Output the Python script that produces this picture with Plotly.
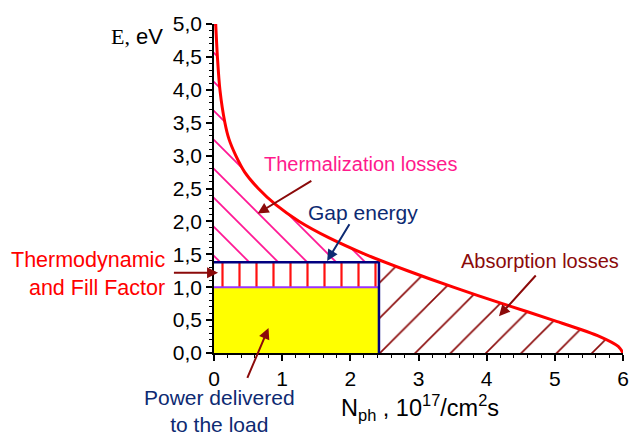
import numpy as np
import plotly.graph_objects as go

# Photon flux curve: N_ph (10^17 /cm^2 s) of photons with energy above E (eV)
curve_E = [5.0, 4.5, 4.0, 3.5, 3.25, 3.0, 2.75, 2.5, 2.25, 2.0, 1.75, 1.5,
           1.25, 1.0, 0.75, 0.5, 0.25, 0.1, 0.0]
curve_N = [0.025, 0.05, 0.087, 0.16, 0.22, 0.32, 0.45, 0.65, 0.91, 1.25, 1.69, 2.22,
           2.84, 3.51, 4.23, 4.97, 5.66, 5.93, 6.0]

E_gap = 1.38        # gap energy, eV
E_load = 1.0        # energy delivered to the load, eV
N_gap = 2.42        # photon flux absorbed above the gap

x_ticks = [0, 1, 2, 3, 4, 5, 6]
y_ticks = [0.0, 0.5, 1.0, 1.5, 2.0, 2.5, 3.0, 3.5, 4.0, 4.5, 5.0]

FONT = "Arial, Liberation Sans, sans-serif"
RED = "#ff0000"
MAGENTA = "#ff1a8c"
MAROON = "#8b0a0a"
NAVY = "#000080"
TXT_NAVY = "#0d2a72"

# curve height where the gap rectangle's right edge meets it
E_cut = float(np.interp(N_gap, curve_N, curve_E))

fig = go.Figure()

# Power delivered to the load (yellow)
fig.add_trace(go.Scatter(
    x=[0, N_gap, N_gap, 0, 0], y=[0, 0, E_load, E_load, 0],
    mode="lines", line=dict(width=0), fill="toself", fillcolor="#ffff00",
    hoverinfo="skip", showlegend=False))

# Thermodynamic and fill factor losses (vertical hatch)
fig.add_trace(go.Scatter(
    x=[0, N_gap, N_gap, 0, 0], y=[E_load, E_load, E_gap, E_gap, E_load],
    mode="lines", line=dict(width=0), fill="toself", fillcolor="#ff1010",
    fillpattern=dict(shape="|", fgcolor="#ff1010", bgcolor="rgba(255,255,255,0)",
                     fgopacity=1, size=17, solidity=0.13),
    hoverinfo="skip", showlegend=False))

# Thermalization losses (above the gap, under the curve)
th = [(n, e) for n, e in zip(curve_N, curve_E) if n < N_gap][::-1]
th_x = [N_gap] + [p[0] for p in th]
th_y = [E_cut] + [p[1] for p in th]
fig.add_trace(go.Scatter(
    x=[0, N_gap] + th_x + [0, 0], y=[E_gap, E_gap] + th_y + [curve_E[0], E_gap],
    mode="lines", line=dict(width=0), fill="toself", fillcolor="#ff1493",
    fillpattern=dict(shape="\\", fgcolor="#ff1493", bgcolor="rgba(255,255,255,0)",
                     fgopacity=1, size=20.5, solidity=0.085),
    hoverinfo="skip", showlegend=False))

# Absorption losses (photons below the gap)
ab = [(n, e) for n, e in zip(curve_N, curve_E) if n > N_gap]
ab_x = [N_gap] + [p[0] for p in ab]
ab_y = [E_cut] + [p[1] for p in ab]
fig.add_trace(go.Scatter(
    x=ab_x + [N_gap, N_gap], y=ab_y + [0, E_cut],
    mode="lines", line=dict(width=0), fill="toself", fillcolor=MAROON,
    fillpattern=dict(shape="/", fgcolor=MAROON, bgcolor="rgba(255,255,255,0)",
                     fgopacity=1, size=25, solidity=0.065),
    hoverinfo="skip", showlegend=False))

# Load level line (violet)
fig.add_trace(go.Scatter(
    x=[0, N_gap], y=[E_load, E_load], mode="lines",
    line=dict(color="#9933ff", width=2), hoverinfo="skip", showlegend=False))

# Gap-energy rectangle (navy)
fig.add_trace(go.Scatter(
    x=[0, N_gap, N_gap], y=[E_gap, E_gap, 0], mode="lines",
    line=dict(color=NAVY, width=2.5), hoverinfo="skip", showlegend=False))

# Photon flux curve
fig.add_trace(go.Scatter(
    x=curve_N, y=curve_E, mode="lines",
    line=dict(color=RED, width=3, shape="spline", smoothing=0.8),
    hoverinfo="skip", showlegend=False))


def arrow(hx, hy, tx, ty, color):
    return dict(x=hx, y=hy, ax=tx, ay=ty, xref="x", yref="y", axref="x", ayref="y",
                text="", showarrow=True, arrowhead=2, arrowsize=1.1, arrowwidth=2,
                arrowcolor=color)


def label(x, y, text, size, color, ref="x", xanchor="center", align="center"):
    return dict(x=x, y=y, xref=ref if ref == "paper" else "x",
                yref=ref if ref == "paper" else "y", text=text, showarrow=False,
                xanchor=xanchor, yanchor="middle", align=align,
                font=dict(family=FONT, size=size, color=color))


annotations = [
    arrow(0.64, 2.12, 1.45, 2.63, MAROON),
    arrow(1.66, 1.40, 2.0, 1.98, TXT_NAVY),
    arrow(4.18, 0.56, 4.74, 1.20, MAROON),
    arrow(0.06, 1.22, -0.61, 1.22, MAROON),
    arrow(0.80, 0.38, 0.48, -0.40, MAROON),
    label(2.15, 2.87, "Thermalization losses", 20, MAGENTA),
    label(2.18, 2.13, "Gap energy", 21, TXT_NAVY),
    label(4.78, 1.40, "Absorption losses", 20, MAROON),
    label(-0.114, 0.239, "Thermodynamic<br>and Fill Factor", 21.5, RED,
          ref="paper", xanchor="right", align="right"),
    label(0.0145, -0.175, "Power delivered<br>to the load", 21, TXT_NAVY, ref="paper"),
    label(-0.189, 0.962,
          "<span style='font-family:Liberation Serif, Times New Roman, serif'>E,</span> eV",
          22, "black", ref="paper"),
    label(0.503, -0.165, "N<sub>ph</sub> , 10<sup>17</sup>/cm<sup>2</sup>s", 23.5, "black",
          ref="paper"),
]

axis_common = dict(showline=True, linecolor="black", linewidth=1.5, ticks="outside",
                   ticklen=6, tickwidth=1.5, tickcolor="black", showgrid=False,
                   zeroline=False, mirror=False,
                   tickfont=dict(family=FONT, size=21, color="black"))

fig.update_layout(
    width=641, height=436, autosize=False,
    margin=dict(l=214, r=14, t=20, b=83),
    paper_bgcolor="white", plot_bgcolor="white",
    separators=",.",
    annotations=annotations,
    xaxis=dict(range=[0, 6], tickvals=x_ticks, tickformat="d",
               minor=dict(dtick=0.2, ticks="outside", ticklen=3, tickwidth=1, tickcolor="black"),
               **axis_common),
    yaxis=dict(range=[0, 5], tickvals=y_ticks, tickformat=".1f",
               minor=dict(dtick=0.1, ticks="outside", ticklen=3, tickwidth=1, tickcolor="black"),
               **axis_common),
)

fig.write_html("out.html", config={"displayModeBar": False},
               post_script="document.body.style.margin='0px';")
